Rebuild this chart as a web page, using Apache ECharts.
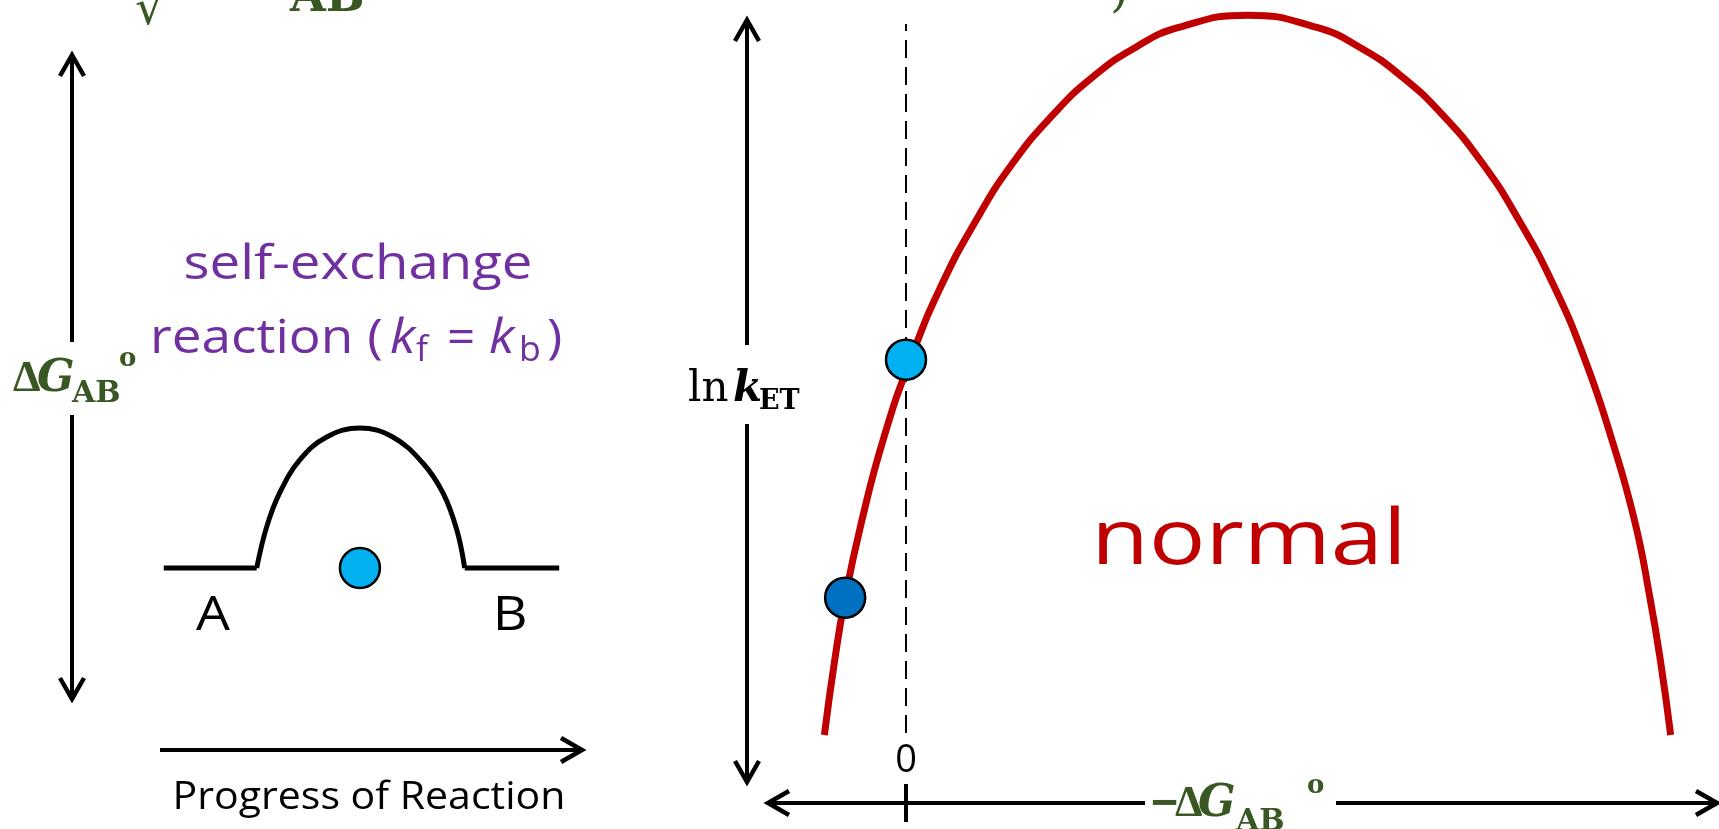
<!DOCTYPE html>
<html>
<head>
<meta charset="utf-8">
<script src="https://cdn.jsdelivr.net/npm/echarts@6/dist/echarts.min.js"></script>
<style>
html, body { margin: 0; padding: 0; background: #fff; }
#chart { width: 1719px; height: 829px; }
</style>
</head>
<body>
<div id="chart"></div>
<script>
// Marcus curve: x = -dG (arb. units, 0 at the dashed line), y = ln k (arb. units)
var curveX = [-2.40, -2.11, -1.79, -1.30, -0.66, 0.13, 1.05, 2.08, 3.11, 4.31, 5.50, 6.76, 8.02, 10.05,
              12.08, 13.34, 14.59, 15.79, 16.98, 18.01, 19.04, 19.97, 20.75, 21.43, 21.88, 22.20, 22.49];
var curveY = [0, 2.11, 4.04, 6.30, 8.72, 11.04, 13.24, 15.17, 16.78, 18.23, 19.36, 20.23, 20.81, 21.17,
              20.81, 20.23, 19.36, 18.23, 16.78, 15.17, 13.24, 11.04, 8.72, 6.30, 4.04, 2.11, 0];
// balls sitting on the curve
var ballX = [0, -1.79];
var ballY = [11.04, 4.04];
var ballColors = ['#00B0F0', '#0070C0'];
// dashed line at -dG = 0
var zeroLineY = [0.06, 20.91];

// self-exchange energy profile (progress, energy)
var flatLeftX = [0, 2.35];
var flatRightX = [7.61, 10];
var barrierX = [2.35, 2.60, 2.93, 3.44, 4.12, 4.96, 5.79, 6.55, 7.06, 7.41, 7.61];
var barrierY = [0, 1.46, 2.68, 3.86, 4.68, 5.0, 4.68, 3.75, 2.68, 1.36, 0];
var exBallX = [4.96];
var exBallY = [0];

var RED = '#C00000', PURPLE = '#7030A0', GREEN = '#385723';

function pairs(xs, ys) {
    return xs.map(function (x, i) { return [x, ys[i]]; });
}

var chart = echarts.init(document.getElementById('chart'));

var option = {
    animation: false,
    backgroundColor: '#fff',
    grid: [
        {left: 144, top: 400, width: 435, height: 196, outerBoundsMode: 'none'},
        {left: 804, top: 4, width: 884, height: 765, outerBoundsMode: 'none'}
    ],
    xAxis: [
        {type: 'value', gridIndex: 0, min: -0.5, max: 10.5, show: false},
        {type: 'value', gridIndex: 1, min: -3, max: 23, show: false}
    ],
    yAxis: [
        {type: 'value', gridIndex: 0, min: -1, max: 6, show: false},
        {type: 'value', gridIndex: 1, min: -1, max: 21.5, show: false}
    ],
    series: [
        {
            name: 'zero', type: 'line', xAxisIndex: 1, yAxisIndex: 1, z: 2,
            showSymbol: false, silent: true,
            data: pairs([0, 0], zeroLineY),
            lineStyle: {color: '#000', width: 2, type: [18, 9]}
        },
        {
            name: 'ln k', type: 'line', xAxisIndex: 1, yAxisIndex: 1, z: 3,
            showSymbol: false, smooth: 0.5,
            data: pairs(curveX, curveY),
            lineStyle: {color: RED, width: 7}
        },
        {
            name: 'balls', type: 'scatter', xAxisIndex: 1, yAxisIndex: 1, z: 5,
            symbolSize: 40,
            data: ballX.map(function (x, i) {
                return {value: [x, ballY[i]], itemStyle: {color: ballColors[i]}};
            }),
            itemStyle: {borderColor: '#000', borderWidth: 2.5, opacity: 1}
        },
        {
            name: 'flatA', type: 'line', xAxisIndex: 0, yAxisIndex: 0, showSymbol: false,
            data: pairs(flatLeftX, [0, 0]),
            lineStyle: {color: '#000', width: 5}
        },
        {
            name: 'flatB', type: 'line', xAxisIndex: 0, yAxisIndex: 0, showSymbol: false,
            data: pairs(flatRightX, [0, 0]),
            lineStyle: {color: '#000', width: 5}
        },
        {
            name: 'barrier', type: 'line', xAxisIndex: 0, yAxisIndex: 0, showSymbol: false,
            smooth: 0.4,
            data: pairs(barrierX, barrierY),
            lineStyle: {color: '#000', width: 5}
        },
        {
            name: 'exBall', type: 'scatter', xAxisIndex: 0, yAxisIndex: 0, z: 5,
            symbolSize: 40,
            data: pairs(exBallX, exBallY),
            itemStyle: {color: '#00B0F0', borderColor: '#000', borderWidth: 2.5, opacity: 1}
        }
    ]
};
chart.setOption(option);

// ---- annotations: arrows and labels ----
function seg(x1, y1, x2, y2, w) {
    return {type: 'line', z: 10, shape: {x1: x1, y1: y1, x2: x2, y2: y2},
            style: {stroke: '#000', lineWidth: w || 4}};
}
function head(tx, ty, dx, dy) {
    var px = -dy, py = dx;
    return {type: 'polyline', z: 10,
            shape: {points: [[tx - 21 * dx + 12 * px, ty - 21 * dy + 12 * py], [tx, ty],
                             [tx - 21 * dx - 12 * px, ty - 21 * dy - 12 * py]]},
            style: {stroke: '#000', lineWidth: 4.5, fill: null, lineJoin: 'miter'}};
}
function txt(x, y, s, size, color, o) {
    o = o || {};
    return {type: 'text', x: x, y: y, scaleX: o.sx || 1, z: 11,
            style: {text: s, fontSize: size, fontFamily: o.ff || 'Open Sans',
                    fontWeight: o.fw || 'normal', fontStyle: o.fs || 'normal',
                    fill: color, align: o.align || 'left', verticalAlign: 'middle'}};
}
var SERIF = 'DejaVu Serif', TIMES = 'Liberation Serif';
var x0 = chart.convertToPixel({xAxisIndex: 1}, 0);

var g = [];
// left vertical arrow (dG_AB)
g.push(seg(72, 57, 72, 342), seg(72, 415, 72, 697), head(72, 55, 0, -1), head(72, 699, 0, 1));
// progress arrow
g.push(seg(160, 750, 580, 750), head(582, 750, 1, 0));
// ln k arrow
g.push(seg(747, 22, 747, 345), seg(747, 424, 747, 780), head(747, 20, 0, -1), head(747, 782, 0, 1));
// -dG arrow
g.push(seg(770, 803, 1145, 803), seg(1336, 803, 1715, 803), head(768, 803, -1, 0), head(1717, 803, 1, 0));
// tick at 0
g.push(seg(x0, 784, x0, 822));

// purple text
g.push(txt(358, 266, 'self-exchange', 47, PURPLE, {align: 'center', sx: 1.16}));
g.push(txt(150, 340, 'reaction (', 47, PURPLE, {sx: 1.13}));
g.push(txt(390, 340, 'k', 47, PURPLE, {fs: 'italic', sx: 1.1}));
g.push(txt(416, 351, 'f', 34, PURPLE, {sx: 1.05}));
g.push(txt(447, 340, '=', 47, PURPLE, {sx: 1.05}));
g.push(txt(489, 340, 'k', 47, PURPLE, {fs: 'italic', sx: 1.1}));
g.push(txt(519, 351, 'b', 34, PURPLE, {sx: 1.05}));
g.push(txt(547, 340, ')', 47, PURPLE, {sx: 1.1}));
// A, B, progress
g.push(txt(213, 616, 'A', 48, '#000', {align: 'center', sx: 1.12}));
g.push(txt(510, 616, 'B', 48, '#000', {align: 'center', sx: 1.12}));
g.push(txt(369, 798, 'Progress of Reaction', 38, '#000', {align: 'center', sx: 1.08}));
// normal
g.push(txt(1249, 542, 'normal', 77, RED, {align: 'center', sx: 1.22}));
// 0 label
g.push(txt(x0, 761, '0', 38, '#000', {align: 'center'}));

// green dG_AB (left)
g.push(txt(13, 380, '\u0394', 44, GREEN, {ff: TIMES, fw: 'bold'}));
g.push(txt(37, 380, 'G', 44, GREEN, {ff: SERIF, fw: 'bold', fs: 'italic'}));
g.push(txt(72, 394, 'AB', 30, GREEN, {ff: SERIF, fw: 'bold'}));
g.push(txt(119, 359, 'o', 26, GREEN, {ff: SERIF, fw: 'bold'}));
// green -dG_AB (bottom)
g.push(txt(1149, 805, '\u2212', 44, GREEN, {ff: SERIF, fw: 'bold', sx: 0.85}));
g.push(txt(1175, 805, '\u0394', 44, GREEN, {ff: TIMES, fw: 'bold'}));
g.push(txt(1198, 805, 'G', 44, GREEN, {ff: SERIF, fw: 'bold', fs: 'italic'}));
g.push(txt(1236, 822, 'AB', 30, GREEN, {ff: SERIF, fw: 'bold'}));
g.push(txt(1307, 786, 'o', 26, GREEN, {ff: SERIF, fw: 'bold'}));
// ln k_ET
g.push(txt(688, 390, 'ln', 42, '#000', {ff: SERIF}));
g.push(txt(733, 390, 'k', 42, '#000', {ff: SERIF, fw: 'bold', fs: 'italic'}));
g.push(txt(759, 402, 'ET', 27, '#000', {ff: SERIF, fw: 'bold'}));
// clipped formula above the visible area
g.push(txt(135, 12, '\u221A', 48, GREEN, {ff: SERIF}));
g.push(txt(290, -1, 'AB', 46, GREEN, {ff: SERIF, fw: 'bold'}));
g.push(txt(1110, -6, ')', 48, GREEN, {ff: SERIF}));

chart.setOption({graphic: g});
</script>
</body>
</html>
